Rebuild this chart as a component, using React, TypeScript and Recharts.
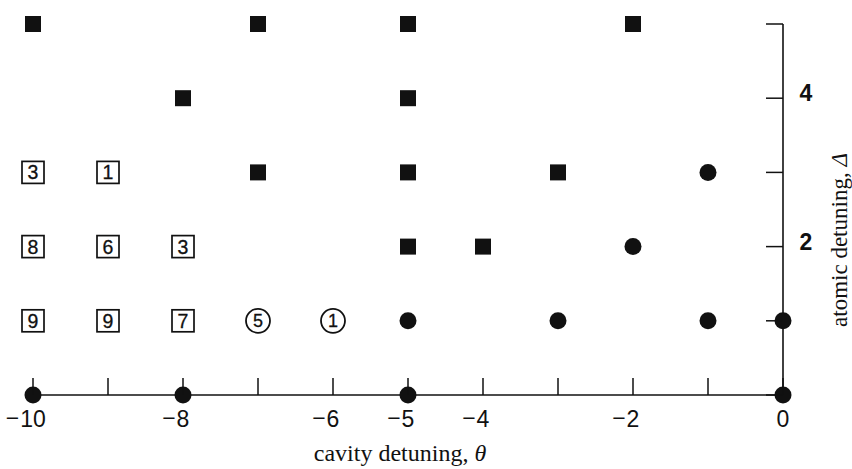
import React from 'react';
import { ScatterChart, Scatter, XAxis, YAxis } from 'recharts';

// cavity detuning θ (x) and atomic detuning Δ (y)
const xTicks = [-10, -9, -8, -7, -6, -5, -4, -3, -2, -1, 0];
const xTickLabels = ['−10', '', '−8', '', '−6', '−5', '−4', '', '−2', '', '0'];
const yTicks = [0, 1, 2, 3, 4, 5];
const yTickLabels = ['', '', '2', '', '4', ''];

const filledSquares = [
  { theta: -10, delta: 5 },
  { theta: -7, delta: 5 },
  { theta: -5, delta: 5 },
  { theta: -2, delta: 5 },
  { theta: -8, delta: 4 },
  { theta: -5, delta: 4 },
  { theta: -7, delta: 3 },
  { theta: -5, delta: 3 },
  { theta: -3, delta: 3 },
  { theta: -5, delta: 2 },
  { theta: -4, delta: 2 },
];

const filledCircles = [
  { theta: -1, delta: 3 },
  { theta: -2, delta: 2 },
  { theta: -5, delta: 1 },
  { theta: -3, delta: 1 },
  { theta: -1, delta: 1 },
  { theta: 0, delta: 1 },
  { theta: -10, delta: 0 },
  { theta: -8, delta: 0 },
  { theta: -5, delta: 0 },
  { theta: 0, delta: 0 },
];

const openSquares = [
  { theta: -10, delta: 3, n: 3 },
  { theta: -9, delta: 3, n: 1 },
  { theta: -10, delta: 2, n: 8 },
  { theta: -9, delta: 2, n: 6 },
  { theta: -8, delta: 2, n: 3 },
  { theta: -10, delta: 1, n: 9 },
  { theta: -9, delta: 1, n: 9 },
  { theta: -8, delta: 1, n: 7 },
];

const openCircles = [
  { theta: -7, delta: 1, n: 5 },
  { theta: -6, delta: 1, n: 1 },
];

const SANS = 'Liberation Sans, Arial, Helvetica, sans-serif';
const SERIF = 'Liberation Serif, Times New Roman, serif';
const INK = '#111';

const XTick = (props: any) => {
  const { x, y, payload } = props;
  const i = xTicks.indexOf(payload.value);
  const label = i >= 0 ? xTickLabels[i] : '';
  const neg = label.startsWith('−');
  const digits = neg ? label.slice(1) : label;
  const half = (digits.length * 0.556 * 23) / 2;
  return (
    <g>
      <line x1={x} y1={y} x2={x} y2={y - 17} stroke={INK} strokeWidth={1.5} />
      {label && (
        <text x={x} y={y + 32} textAnchor="middle" fontFamily={SANS} fontSize={23} fill={INK}>
          {digits}
        </text>
      )}
      {label && neg && (
        <text x={x - half - 1} y={y + 31} textAnchor="end" fontFamily={SANS} fontSize={23} fill={INK}>
          −
        </text>
      )}
    </g>
  );
};

const YTick = (props: any) => {
  const { x, y, payload } = props;
  const i = yTicks.indexOf(payload.value);
  const label = i >= 0 ? yTickLabels[i] : '';
  return (
    <g>
      <line x1={x - 17} y1={y} x2={x} y2={y} stroke={INK} strokeWidth={1.5} />
      {label && (
        <text x={x + 23} y={y + 3} textAnchor="middle" fontFamily={SANS} fontWeight="bold" fontSize={23} fill={INK}>
          {label}
        </text>
      )}
    </g>
  );
};

const XLabel = (props: any) => {
  const vb = props.viewBox || {};
  const cx = vb.x + vb.width / 2 - 8;
  return (
    <text x={cx} y={vb.y + 66} textAnchor="middle" fontFamily={SERIF} fontSize={24} fill={INK}>
      cavity detuning, <tspan fontStyle="italic">θ</tspan>
    </text>
  );
};

const YLabel = (props: any) => {
  const vb = props.viewBox || {};
  const x = vb.x + 64;
  const y = 240;
  return (
    <text x={x} y={y} textAnchor="middle" fontFamily={SERIF} fontSize={23} fill={INK} transform={`rotate(-90, ${x}, ${y})`}>
      atomic detuning, <tspan fontStyle="italic">Δ</tspan>
    </text>
  );
};

const FilledSquare = (p: any) => <rect x={p.cx - 8} y={p.cy - 8} width={16} height={16} fill={INK} />;
const FilledCircle = (p: any) => <circle cx={p.cx} cy={p.cy} r={8.5} fill={INK} />;
const OpenSquare = (p: any) => (
  <g>
    <rect x={p.cx - 11} y={p.cy - 11} width={22} height={22} fill="#fff" stroke={INK} strokeWidth={1.7} />
    <text x={p.cx} y={p.cy + 7} textAnchor="middle" fontFamily={SANS} fontSize={19.5} fill={INK} stroke={INK} strokeWidth={0.3}>
      {p.payload.n}
    </text>
  </g>
);
const OpenCircle = (p: any) => (
  <g>
    <circle cx={p.cx} cy={p.cy} r={12} fill="#fff" stroke={INK} strokeWidth={1.8} />
    <text x={p.cx} y={p.cy + 6.5} textAnchor="middle" fontFamily={SANS} fontSize={18} fill={INK} stroke={INK} strokeWidth={0.3}>
      {p.payload.n}
    </text>
  </g>
);

export default function App() {
  return (
    <div style={{ position: 'absolute', left: 0, top: 0, background: '#fff' }}>
      <ScatterChart width={852} height={469} margin={{ top: 24, right: 0, bottom: 0, left: 33 }}>
        <XAxis
          type="number"
          dataKey="theta"
          domain={[-10, 0]}
          ticks={xTicks}
          interval={0}
          height={74}
          tickSize={0}
          tickMargin={0}
          tickLine={false}
          axisLine={{ stroke: INK, strokeWidth: 1.6 }}
          tick={<XTick />}
          label={<XLabel />}
        />
        <YAxis
          type="number"
          dataKey="delta"
          orientation="right"
          domain={[0, 5]}
          ticks={yTicks}
          interval={0}
          width={69}
          tickSize={0}
          tickMargin={0}
          tickLine={false}
          axisLine={{ stroke: INK, strokeWidth: 1.6 }}
          tick={<YTick />}
          label={<YLabel />}
        />
        <Scatter data={filledSquares} shape={FilledSquare} isAnimationActive={false} />
        <Scatter data={filledCircles} shape={FilledCircle} isAnimationActive={false} />
        <Scatter data={openSquares} shape={OpenSquare} isAnimationActive={false} />
        <Scatter data={openCircles} shape={OpenCircle} isAnimationActive={false} />
      </ScatterChart>
    </div>
  );
}
